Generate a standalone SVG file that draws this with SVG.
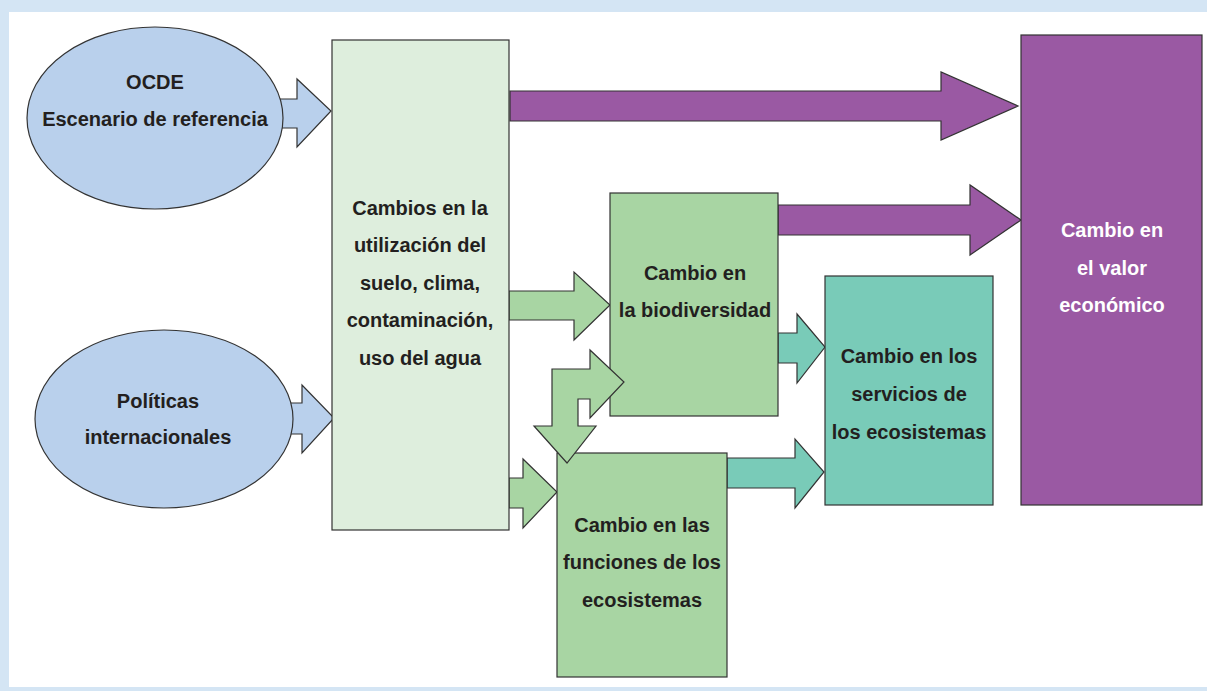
<svg xmlns="http://www.w3.org/2000/svg" width="1207" height="691" viewBox="0 0 1207 691">
<style>
.t{font-family:"Liberation Sans",Arial,sans-serif;font-size:20px;font-weight:bold;fill:#231f20;text-anchor:middle}
.w{fill:#ffffff}
.s{stroke:#333333;stroke-width:1.2;stroke-linejoin:miter}
.blue{fill:#b9d0ec}
.lg{fill:#deeedd}
.g{fill:#a8d5a3}
.teal{fill:#79cbb8}
.pur{fill:#9a59a3}
</style>
<rect x="0" y="0" width="1207" height="691" fill="#d4e5f4"/>
<rect x="9" y="12" width="1198" height="675" fill="#ffffff"/>

<g id="connectors">
<polygon class="s blue" points="280,99 297,99 297,79 331,111 297,147 297,128 280,128"/>
<polygon class="s blue" points="290,403 302,403 302,385 334,418 302,453 302,434 290,434"/>
<polygon class="s pur" points="510,91 941,91 941,72 1018,106 941,140 941,121 510,121"/>
<polygon class="s g" points="509,291 574,291 574,272 610,305 574,340 574,320 509,320"/>
<polygon class="s g" points="509,478 523,478 523,459 557,492 523,528 523,508 509,508"/>
<polygon class="s pur" points="778,205 970,205 970,185 1021,220 970,255 970,235 778,235"/>
<polygon class="s teal" points="778,333 797,333 797,314 825,347 797,383 797,363 778,363"/>
<polygon class="s teal" points="727,458 795,458 795,439 824,472 795,508 795,488 727,488"/>
</g>

<g id="node-ocde">
<ellipse class="s blue" cx="155" cy="118" rx="128" ry="91"/>
<text class="t" x="155" y="89">OCDE</text>
<text class="t" x="155" y="126">Escenario de referencia</text>
</g>

<g id="node-politicas">
<ellipse class="s blue" cx="164" cy="419" rx="129" ry="89"/>
<text class="t" x="158" y="408">Políticas</text>
<text class="t" x="158" y="444">internacionales</text>
</g>

<g id="node-cambios">
<rect class="s lg" x="332" y="40" width="177" height="490"/>
<text class="t" x="420" y="215">Cambios en la</text>
<text class="t" x="420" y="252">utilización del</text>
<text class="t" x="420" y="290">suelo, clima,</text>
<text class="t" x="420" y="327">contaminación,</text>
<text class="t" x="420" y="365">uso del agua</text>
</g>

<g id="node-biodiversidad">
<rect class="s g" x="610" y="193" width="168" height="223"/>
<text class="t" x="695" y="280">Cambio en</text>
<text class="t" x="695" y="317">la biodiversidad</text>
</g>

<g id="node-servicios">
<rect class="s teal" x="825" y="276" width="168" height="229"/>
<text class="t" x="909" y="363">Cambio en los</text>
<text class="t" x="909" y="401">servicios de</text>
<text class="t" x="909" y="439">los ecosistemas</text>
</g>

<g id="node-funciones">
<rect class="s g" x="557" y="453" width="170" height="224"/>
<text class="t" x="642" y="532">Cambio en las</text>
<text class="t" x="642" y="569">funciones de los</text>
<text class="t" x="642" y="607">ecosistemas</text>
</g>

<g id="node-valor">
<rect class="s pur" x="1021" y="35" width="181" height="470"/>
<text class="t w" x="1112" y="237">Cambio en</text>
<text class="t w" x="1112" y="275">el valor</text>
<text class="t w" x="1112" y="312">económico</text>
</g>

<g id="connector-bidirectional">
<polygon class="s g" points="552,369 590,369 590,350 624,382 590,418 590,399 578,399 578,426 596,426 567,463 534,426 552,426"/>
</g>
</svg>
